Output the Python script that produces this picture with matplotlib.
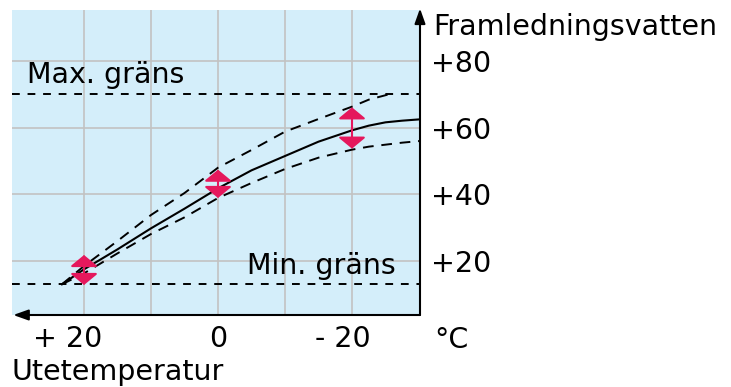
import numpy as np
import matplotlib
matplotlib.use('Agg')
from matplotlib import pyplot as plt
from matplotlib.transforms import ScaledTranslation

# outdoor temperature (deg C) and supply water temperature (deg C)
temp = [23.3, 20, 15, 10, 5, 0, -5, -10, -15, -20, -22.5, -25, -27.5, -30.15]
curve_mid = [13.0, 17.5, 23.5, 29.8, 35.7, 41.8, 47.2, 51.5, 55.8, 59.2, 60.6, 61.6, 62.1, 62.5]
temp_upper = [23.3, 20, 15, 10, 5, 0, -5, -10, -15, -20, -22.5, -25.5]
curve_upper = [13.0, 18.5, 26.0, 33.8, 40.4, 48.0, 53.3, 58.8, 62.6, 66.3, 68.4, 70.0]
curve_lower = [13.0, 16.3, 22.3, 28.1, 33.1, 38.9, 43.4, 47.6, 51.0, 53.4, 54.3, 54.9, 55.5, 56.0]

max_limit = 70
min_limit = 13

# adjustment arrows: position, top, bottom
adj_temp = [20, 0, -20]
adj_top = [21.8, 47.4, 66.1]
adj_bottom = [12.8, 38.9, 53.7]

x_ticks = [20, 0, -20]
x_labels = ['+ 20', '0', '- 20']
y_ticks = [20, 40, 60, 80]
y_labels = ['+20', '+40', '+60', '+80']
grid_x = [20, 10, 0, -10, -20]
grid_y = [20, 40, 60, 80]

bg = '#d4eefa'
red = '#e5185c'
fs = 20.5

fig = plt.figure(figsize=(7.31, 3.87), dpi=100)
ax = fig.add_axes([12 / 731, 1 - 315 / 387, 408 / 731, 305 / 387])
ax.set_facecolor(bg)
ax.set_xlim(30.75, -30.15)
ax.set_ylim(3.8, 95.3)

for g in grid_x:
    ax.axvline(g, color='#c2c2c2', lw=1.2, zorder=1)
for g in grid_y:
    ax.axhline(g, color='#c2c2c2', lw=1.2, zorder=1)

ax.axhline(max_limit, color='black', lw=1.4, dashes=(4, 4), zorder=2)
ax.axhline(min_limit, color='black', lw=1.4, dashes=(4, 4), zorder=2)

ax.plot(temp, curve_mid, color='black', lw=1.5, zorder=3)
ax.plot(temp_upper, curve_upper, color='black', lw=1.4, dashes=(5.5, 4), zorder=3)
ax.plot(temp, curve_lower, color='black', lw=1.4, dashes=(5.5, 4), zorder=3)

for t, top, bot in zip(adj_temp, adj_top, adj_bottom):
    ax.annotate('', xy=(t, top), xytext=(t, bot),
                arrowprops=dict(arrowstyle='<|-|>,head_length=0.7,head_width=0.85',
                                color=red, lw=1.5, shrinkA=0, shrinkB=0,
                                mutation_scale=10), zorder=4)

for s in ax.spines.values():
    s.set_visible(False)

# axis lines with arrow heads
ax.annotate('', xy=(0.003, 0), xytext=(1, 0), xycoords='axes fraction',
            arrowprops=dict(arrowstyle='-|>,head_length=0.9,head_width=0.32',
                            color='black', lw=1.5, shrinkA=0, shrinkB=0,
                            mutation_scale=10), annotation_clip=False)
ax.annotate('', xy=(1, 1.005), xytext=(1, 0), xycoords='axes fraction',
            arrowprops=dict(arrowstyle='-|>,head_length=0.9,head_width=0.32',
                            color='black', lw=1.5, shrinkA=0, shrinkB=0,
                            mutation_scale=10), annotation_clip=False)

ax.yaxis.tick_right()
ax.set_yticks(y_ticks, y_labels, fontsize=fs)
ax.set_xticks(x_ticks, x_labels, fontsize=fs)
ax.tick_params(axis='both', length=0)
ax.tick_params(axis='y', pad=8)
ax.tick_params(axis='x', pad=7)
# keep the digits centred on the tick, sign sits to the left
shifts = [-0.16, 0.0, -0.09]
for lab, dx in zip(ax.get_xticklabels(), shifts):
    lab.set_transform(lab.get_transform() + ScaledTranslation(dx, 0, fig.dpi_scale_trans))

ax.text(28.5, 73.4, 'Max. gräns', fontsize=fs, ha='left', va='baseline')
ax.text(-4.4, 16.1, 'Min. gräns', fontsize=fs, ha='left', va='baseline')

fig.text(433 / 731, 1 - 35 / 387, 'Framledningsvatten', fontsize=fs, ha='left', va='baseline')
fig.text(434 / 731, 1 - 348 / 387, '°C', fontsize=fs, ha='left', va='baseline')
fig.text(12 / 731, 1 - 380 / 387, 'Utetemperatur', fontsize=fs, ha='left', va='baseline')

fig.savefig('out.png', dpi=100, facecolor='white')
